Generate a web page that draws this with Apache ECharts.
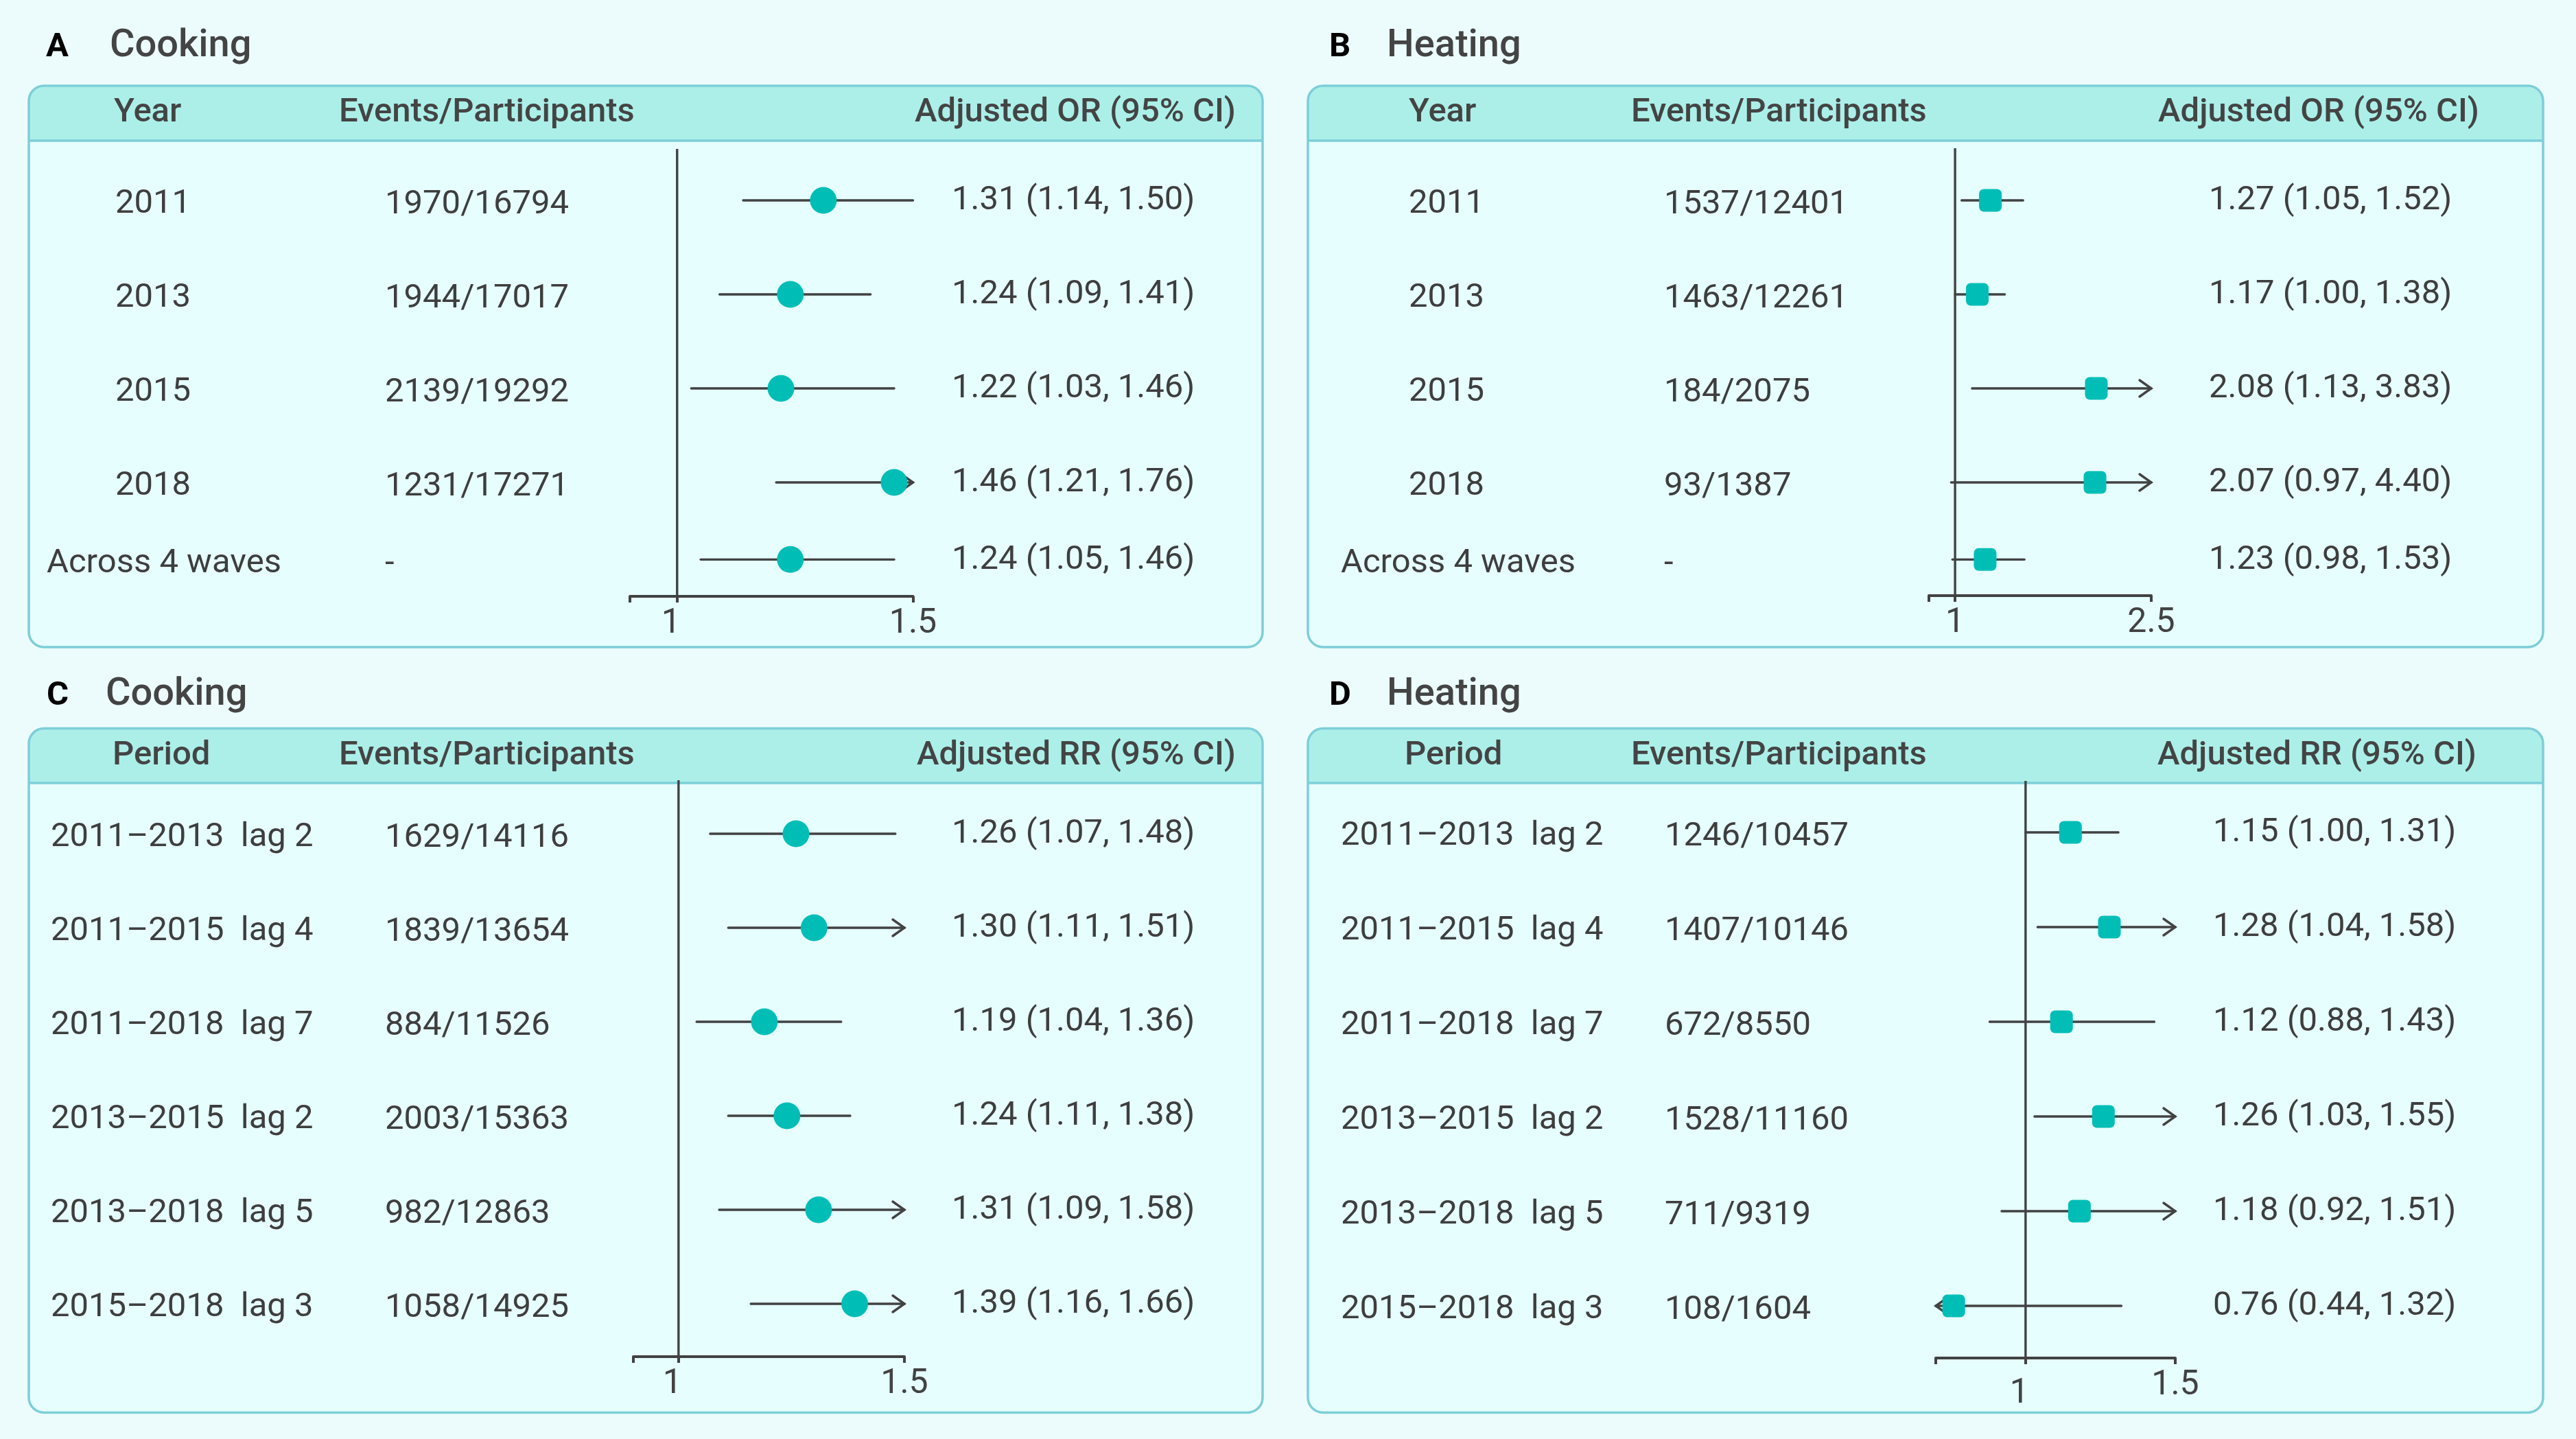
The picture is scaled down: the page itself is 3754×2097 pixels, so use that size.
<!DOCTYPE html>
<html>
<head>
<meta charset="utf-8">
<script src="https://cdn.jsdelivr.net/npm/echarts@6/dist/echarts.min.js"></script>
<style>
html,body{margin:0;padding:0;background:#ecfcfc;}
#main{width:3754px;height:2097px;}
</style>
</head>
<body>
<div id="main"></div>
<script>
// ---------------- DATA ----------------
const panelLetters = ['A', 'B', 'C', 'D'];
const panelTitles = ['Cooking', 'Heating', 'Cooking', 'Heating'];

const headersA = ['Year', 'Events/Participants', 'Adjusted OR (95% CI)'];
const headersB = ['Year', 'Events/Participants', 'Adjusted OR (95% CI)'];
const headersC = ['Period', 'Events/Participants', 'Adjusted RR (95% CI)'];
const headersD = ['Period', 'Events/Participants', 'Adjusted RR (95% CI)'];

const labelsA = ['2011', '2013', '2015', '2018', 'Across 4 waves'];
const eventsA = ['1970/16794', '1944/17017', '2139/19292', '1231/17271', '-'];
const estA = [1.31, 1.24, 1.22, 1.46, 1.24];
const lowA = [1.14, 1.09, 1.03, 1.21, 1.05];
const highA = [1.50, 1.41, 1.46, 1.76, 1.46];

const labelsB = ['2011', '2013', '2015', '2018', 'Across 4 waves'];
const eventsB = ['1537/12401', '1463/12261', '184/2075', '93/1387', '-'];
const estB = [1.27, 1.17, 2.08, 2.07, 1.23];
const lowB = [1.05, 1.00, 1.13, 0.97, 0.98];
const highB = [1.52, 1.38, 3.83, 4.40, 1.53];

const labelsC = ['2011\u20132013  lag 2', '2011\u20132015  lag 4', '2011\u20132018  lag 7',
                 '2013\u20132015  lag 2', '2013\u20132018  lag 5', '2015\u20132018  lag 3'];
const eventsC = ['1629/14116', '1839/13654', '884/11526', '2003/15363', '982/12863', '1058/14925'];
const estC = [1.26, 1.30, 1.19, 1.24, 1.31, 1.39];
const lowC = [1.07, 1.11, 1.04, 1.11, 1.09, 1.16];
const highC = [1.48, 1.51, 1.36, 1.38, 1.58, 1.66];

const labelsD = ['2011\u20132013  lag 2', '2011\u20132015  lag 4', '2011\u20132018  lag 7',
                 '2013\u20132015  lag 2', '2013\u20132018  lag 5', '2015\u20132018  lag 3'];
const eventsD = ['1246/10457', '1407/10146', '672/8550', '1528/11160', '711/9319', '108/1604'];
const estD = [1.15, 1.28, 1.12, 1.26, 1.18, 0.76];
const lowD = [1.00, 1.04, 0.88, 1.03, 0.92, 0.44];
const highD = [1.31, 1.58, 1.43, 1.55, 1.51, 1.32];

const rangeA = [0.9, 1.5], ticksA = [1, 1.5];
const rangeB = [0.8, 2.5], ticksB = [1, 2.5];
const rangeC = [0.9, 1.5], ticksC = [1, 1.5];
const rangeD = [0.7, 1.5], ticksD = [1, 1.5];

// ---------------- STYLE / LAYOUT ----------------
const FONT = 'Roboto';
const INK = '#424242';
const TEAL = '#00beb6';
const BORDER = '#7dced8';
const HEADER_FILL = '#acefe9';
const BODY_FILL = '#e6fefe';

const panels = [
  { headers: headersA, labels: labelsA, events: eventsA, est: estA, low: lowA, high: highA, range: rangeA, ticks: ticksA,
    box: [42, 125, 1798, 818], headerH: 80, letterX: 67, titleX: 160, titleY: 70, oneDrop: 0, oneShift: 18,
    headX: [166, 494, 1801], colX: [168, 561, 1387], summaryX: 68, summaryRow: 4,
    grid: [918, 217, 412.5, 652], row0: 292, rowStep: 137, rowIdx: [0, 1, 2, 3, 3.82], marker: 'circle' },
  { headers: headersB, labels: labelsB, events: eventsB, est: estB, low: lowB, high: highB, range: rangeB, ticks: ticksB,
    box: [1906, 125, 1800, 818], headerH: 80, letterX: 1937, titleX: 2021, titleY: 70, oneDrop: 0, oneShift: 0,
    headX: [2053, 2377, 3613], colX: [2053, 2425, 3219], summaryX: 1954, summaryRow: 4,
    grid: [2811, 216, 324, 652], row0: 292, rowStep: 137, rowIdx: [0, 1, 2, 3, 3.82], marker: 'square' },
  { headers: headersC, labels: labelsC, events: eventsC, est: estC, low: lowC, high: highC, range: rangeC, ticks: ticksC,
    box: [42, 1061.5, 1798, 997], headerH: 79.5, letterX: 68, titleX: 154, titleY: 1015, oneDrop: 0, oneShift: 18,
    headX: [164, 494, 1801], colX: [74, 561, 1387], summaryX: 74, summaryRow: -1,
    grid: [923, 1137, 395, 840], row0: 1215, rowStep: 137, rowIdx: [0, 1, 2, 3, 4, 5], marker: 'circle' },
  { headers: headersD, labels: labelsD, events: eventsD, est: estD, low: lowD, high: highD, range: rangeD, ticks: ticksD,
    box: [1906, 1061.5, 1800, 997], headerH: 79.5, letterX: 1937, titleX: 2021, titleY: 1015, oneDrop: 12, oneShift: 18,
    headX: [2047, 2377, 3609], colX: [1954, 2426, 3225], summaryX: 1954, summaryRow: -1,
    grid: [2821, 1138, 349, 841], row0: 1213, rowStep: 138, rowIdx: [0, 1, 2, 3, 4, 5], marker: 'square' }
];

function fmt(v) { return v.toFixed(2); }

function txt(text, x, y, size, weight, color, align) {
  return {
    type: 'text', x: x, y: y, silent: true,
    style: {
      text: text, fill: color, fontSize: size, fontWeight: weight, fontFamily: FONT,
      align: align, textAlign: align, verticalAlign: 'middle', textVerticalAlign: 'middle'
    }
  };
}

const grids = [], xAxes = [], yAxes = [], series = [], graphics = [];

panels.forEach((p, k) => {
  const [bx, by, bw, bh] = p.box;
  const R = 22;
  // panel frame
  graphics.push({ type: 'rect', z: -10, silent: true, shape: { x: bx, y: by, width: bw, height: bh, r: R },
    style: { fill: BODY_FILL } });
  graphics.push({ type: 'rect', z: -9, silent: true, shape: { x: bx, y: by, width: bw, height: p.headerH, r: [R, R, 0, 0] },
    style: { fill: HEADER_FILL } });
  graphics.push({ type: 'line', z: -8, silent: true, shape: { x1: bx, y1: by + p.headerH, x2: bx + bw, y2: by + p.headerH },
    style: { stroke: BORDER, lineWidth: 3.5 } });
  graphics.push({ type: 'rect', z: -7, silent: true, shape: { x: bx, y: by, width: bw, height: bh, r: R },
    style: { fill: null, stroke: BORDER, lineWidth: 3.5 } });
  // titles
  graphics.push(txt(panelLetters[k], p.letterX, p.titleY, 49, 'bold', '#000000', 'left'));
  graphics.push(txt(panelTitles[k], p.titleX, p.titleY - 2, 56, 500, '#444444', 'left'));
  // header texts
  const hy = by + p.headerH / 2;
  graphics.push(txt(p.headers[0], p.headX[0], hy, 49, 500, '#444444', 'left'));
  graphics.push(txt(p.headers[1], p.headX[1], hy, 49, 500, '#444444', 'left'));
  graphics.push(txt(p.headers[2], p.headX[2], hy, 49, 500, '#444444', 'right'));

  // grid + axes
  const [gl, gt, gw, gh] = p.grid;
  grids.push({ left: gl, top: gt, width: gw, height: gh, containLabel: false });
  const [xmin, xmax] = p.range;
  const lblStyle = { fontSize: 50, fontFamily: FONT, color: INK };
  xAxes.push({
    gridIndex: k, type: 'value', min: xmin, max: xmax, position: 'bottom',
    axisLine: { show: true, onZero: false, lineStyle: { color: INK, width: 4 } },
    axisTick: { show: true, inside: false, length: 9, customValues: [xmin, 1, xmax],
      lineStyle: { color: INK, width: 4 } },
    axisLabel: { show: true, customValues: p.ticks,
      formatter: v => (v === 1 ? '{one|1}' : '{oth|' + String(v) + '}'), margin: 15,
      fontSize: 50, fontFamily: FONT, color: INK, showMinLabel: true, showMaxLabel: true,
      rich: {
        one: Object.assign({ padding: [p.oneDrop, p.oneShift, 0, 0] }, lblStyle),
        oth: Object.assign({}, lblStyle)
      } },
    splitLine: { show: false }
  });
  const yMin = (gt - p.row0) / p.rowStep;
  const yMax = (gt + gh - p.row0) / p.rowStep;
  yAxes.push({ gridIndex: k, type: 'value', min: yMin, max: yMax, inverse: true, show: false,
    splitLine: { show: false } });

  // reference line at 1
  series.push({
    type: 'custom', xAxisIndex: k, yAxisIndex: k, clip: false, silent: true, animation: false,
    data: [[1]],
    encode: { x: 0 },
    renderItem: function (params, api) {
      const x = api.coord([api.value(0), 0])[0];
      const cs = params.coordSys;
      return { type: 'line', shape: { x1: x, y1: cs.y, x2: x, y2: cs.y + cs.height },
        style: { stroke: INK, lineWidth: 3.4 } };
    }
  });

  // forest rows
  const data = p.est.map((e, i) => [e, p.low[i], p.high[i], p.rowIdx[i]]);
  series.push({
    type: 'custom', xAxisIndex: k, yAxisIndex: k, clip: false, silent: true, animation: false,
    encode: { x: [0, 1, 2], y: 3 },
    data: data,
    z: 5,
    renderItem: function (params, api) {
      const i = params.dataIndex;
      const est = api.value(0), lo = api.value(1), hi = api.value(2), r = api.value(3);
      const pe = api.coord([est, r]);
      const y = pe[1];
      const xl = api.coord([Math.max(lo, xmin), r])[0];
      const xh = api.coord([Math.min(hi, xmax), r])[0];
      const ch = [];
      const ls = { stroke: INK, lineWidth: 3.4, lineCap: 'round' };
      ch.push({ type: 'line', shape: { x1: xl, y1: y, x2: xh, y2: y }, style: ls });
      if (hi > xmax) {
        ch.push({ type: 'polyline', shape: { points: [[xh - 17, y - 12], [xh, y], [xh - 17, y + 12]] },
          style: { stroke: INK, lineWidth: 3.4, fill: null, lineCap: 'round' } });
      }
      if (lo < xmin) {
        ch.push({ type: 'polyline', shape: { points: [[xl + 17, y - 12], [xl, y], [xl + 17, y + 12]] },
          style: { stroke: INK, lineWidth: 3.4, fill: null, lineCap: 'round' } });
      }
      if (p.marker === 'circle') {
        ch.push({ type: 'circle', shape: { cx: pe[0], cy: y, r: 19.5 }, style: { fill: TEAL } });
      } else {
        ch.push({ type: 'rect', shape: { x: pe[0] - 16.5, y: y - 16.5, width: 33, height: 33, r: 7 },
          style: { fill: TEAL } });
      }
      const c1x = (i === p.summaryRow) ? p.summaryX : p.colX[0];
      ch.push(txt(p.labels[i], c1x, y + 6, 49, 'normal', '#3e3e3e', 'left'));
      ch.push(txt(p.events[i], p.colX[1], y + 7, 49, 'normal', '#3e3e3e', 'left'));
      ch.push(txt(fmt(est) + ' (' + fmt(lo) + ', ' + fmt(hi) + ')', p.colX[2], y + 1, 49, 'normal', '#3e3e3e', 'left'));
      return { type: 'group', children: ch };
    }
  });
});

const chart = echarts.init(document.getElementById('main'), null, { renderer: 'canvas', width: 3754, height: 2097 });
chart.setOption({
  backgroundColor: '#ecfcfc',
  animation: false,
  grid: grids,
  xAxis: xAxes,
  yAxis: yAxes,
  graphic: { elements: graphics },
  series: series
});
</script>
</body>
</html>
